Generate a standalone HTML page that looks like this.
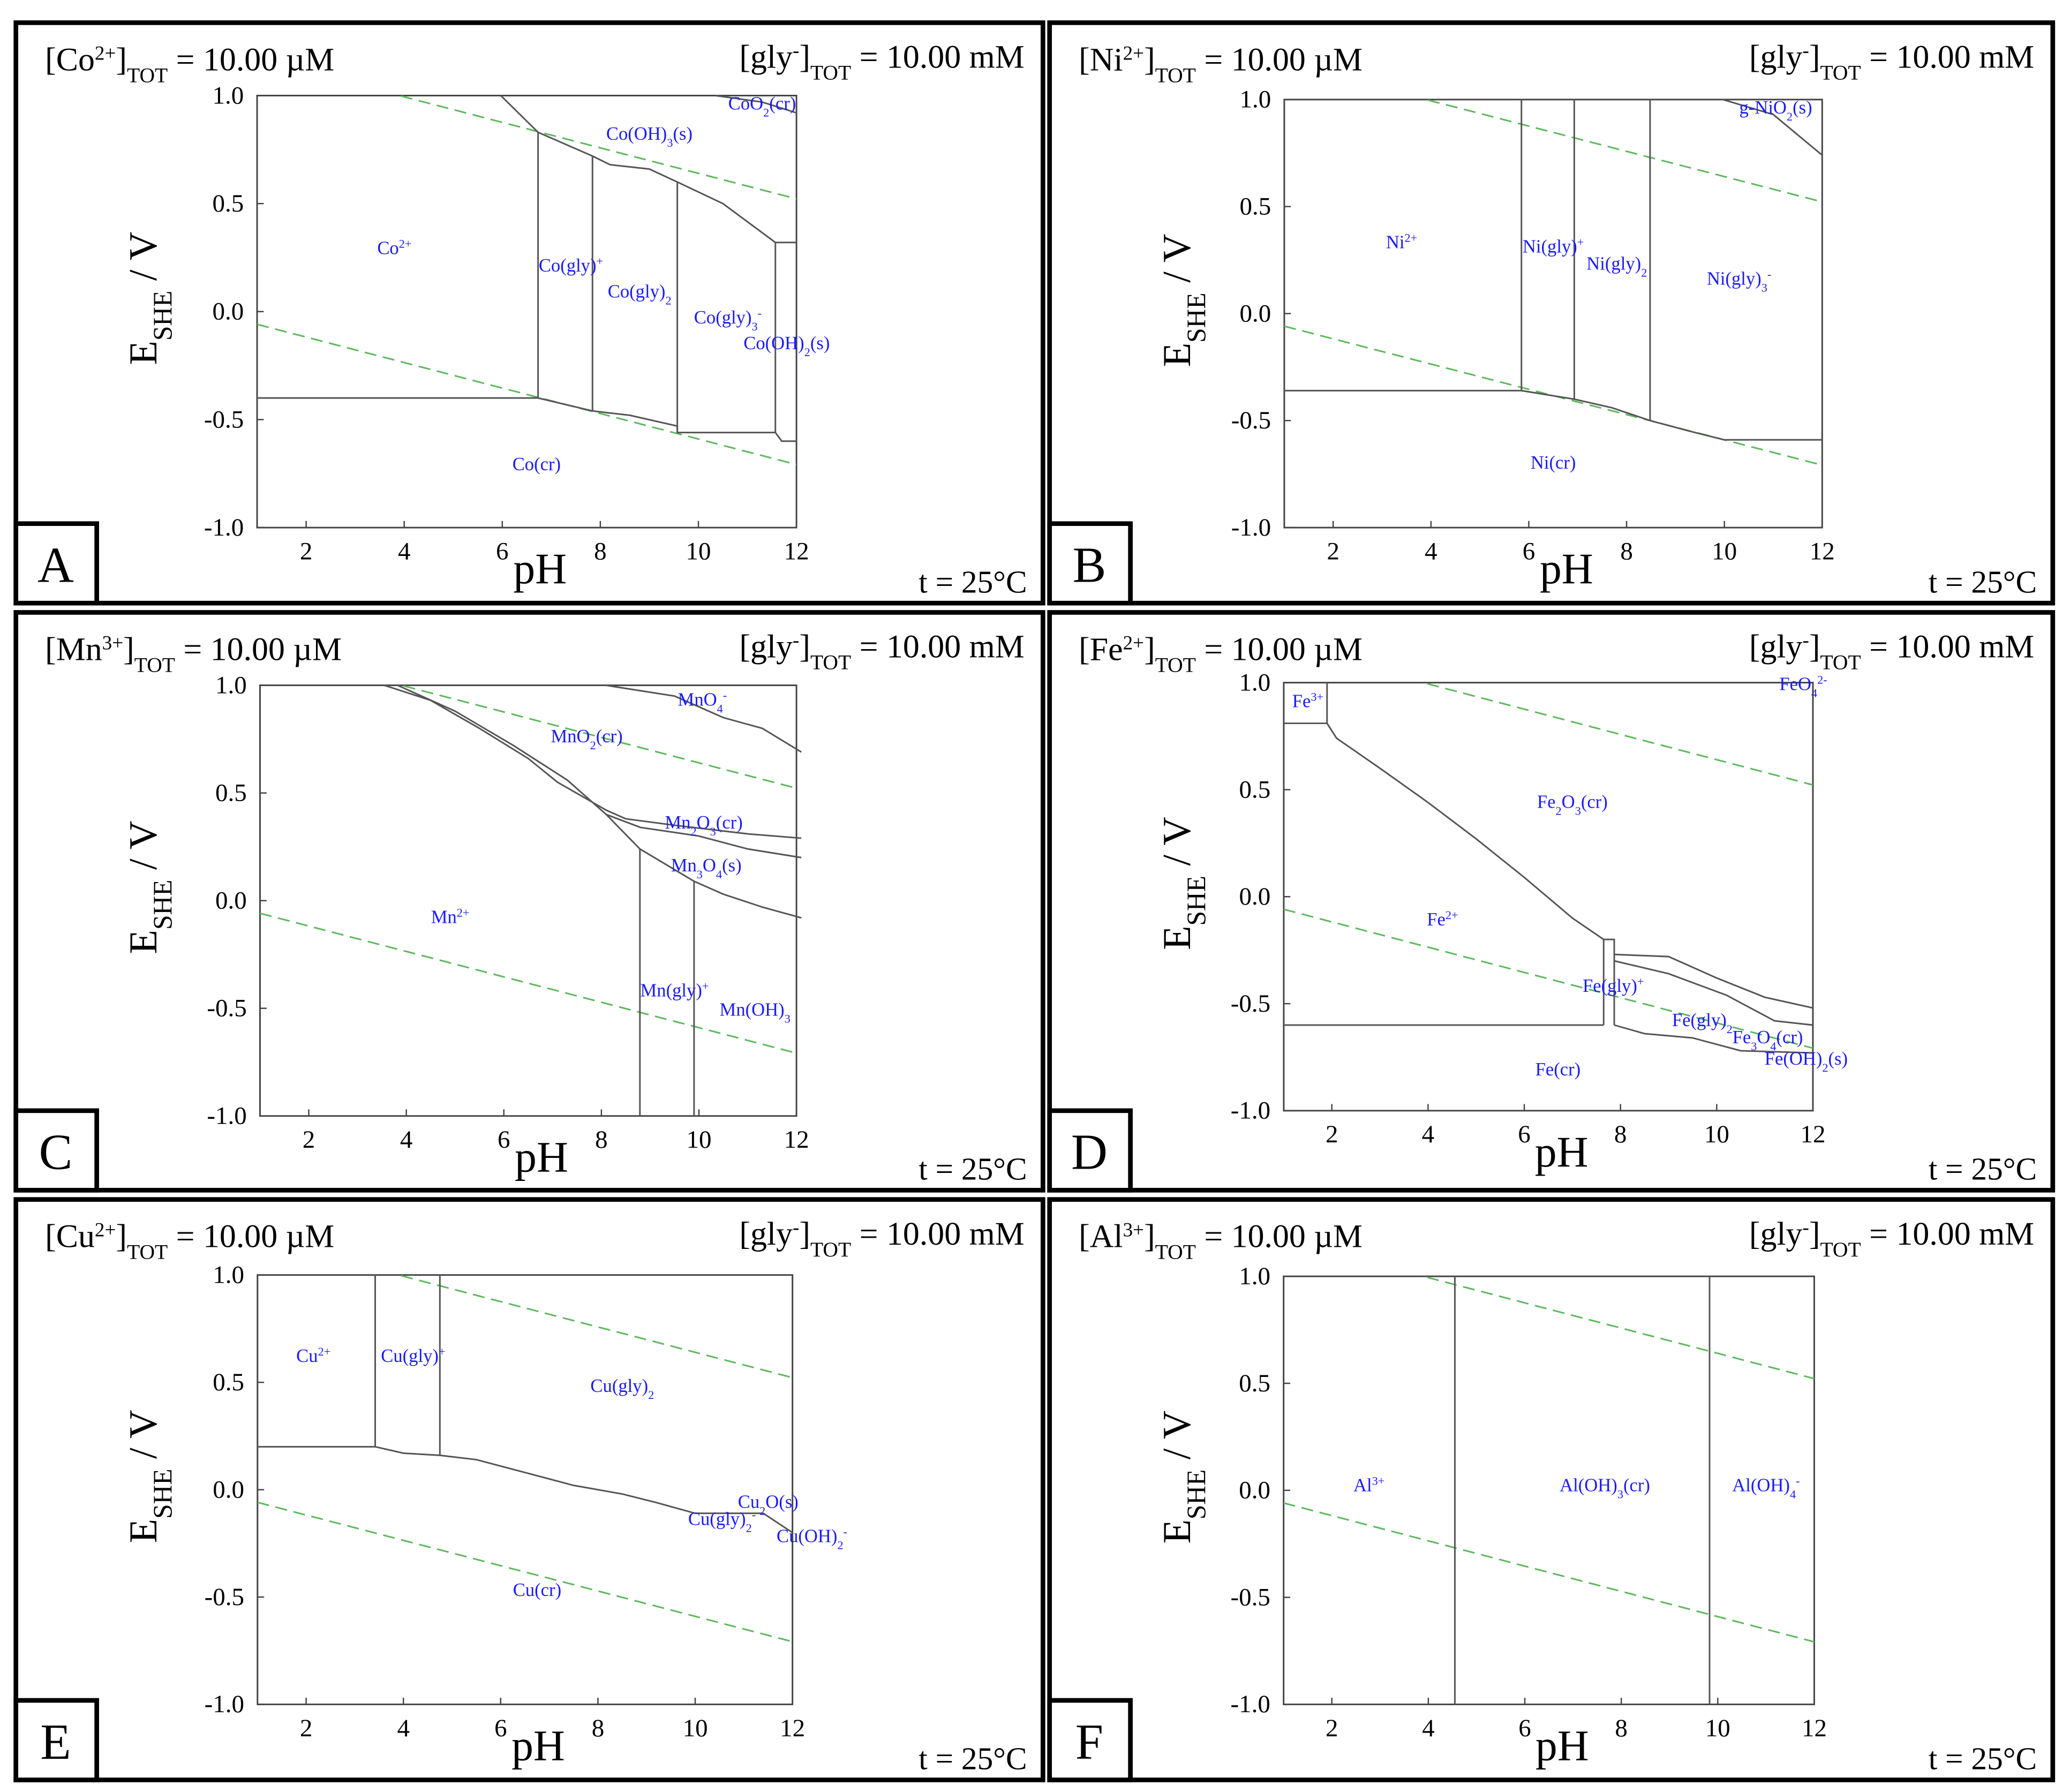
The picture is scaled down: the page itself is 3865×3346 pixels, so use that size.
<!DOCTYPE html>
<html><head><meta charset="utf-8"><style>
html,body{margin:0;padding:0;background:#fff}
svg{display:block}
text{font-family:"Liberation Serif",serif}
</style></head><body>
<svg id="chart" xmlns="http://www.w3.org/2000/svg" width="3865" height="3346" viewBox="0 0 1562 1352"></svg>
<script>
// ---------- data (pH, E in V) ----------
const phTicks = [2,4,6,8,10,12];
const eTicks = [1.0,0.5,0.0,-0.5,-1.0];
const eTickLabels = ["1.0","0.5","0.0","-0.5","-1.0"];
const letters = ["A","B","C","D","E","F"];
const metals = ["Co<tspan baseline-shift='super' font-size='15'>2+</tspan>","Ni<tspan baseline-shift='super' font-size='15'>2+</tspan>","Mn<tspan baseline-shift='super' font-size='15'>3+</tspan>","Fe<tspan baseline-shift='super' font-size='15'>2+</tspan>","Cu<tspan baseline-shift='super' font-size='15'>2+</tspan>","Al<tspan baseline-shift='super' font-size='15'>3+</tspan>"];

const linesA = [
 [[1,-0.40],[6.73,-0.40]],
 [[6.73,-0.40],[6.73,0.83]],
 [[5.97,1.0],[6.73,0.83],[7.84,0.72],[8.2,0.68],[9.0,0.66],[9.57,0.60],[10.5,0.50],[11.57,0.32],[12,0.32]],
 [[10.35,1.0],[11.3,0.97],[12,0.92]],
 [[6.73,-0.40],[7.84,-0.46],[8.6,-0.48],[9.57,-0.53],[9.57,-0.56],[11.57,-0.56],[11.7,-0.60],[12,-0.60]],
 [[7.84,-0.46],[7.84,0.72]],
 [[9.57,-0.56],[9.57,0.60]],
 [[11.57,-0.56],[11.57,0.32]]
];
const linesB = [
 [[1,-0.36],[5.85,-0.36]],
 [[5.85,-0.36],[5.85,1.0]],
 [[6.93,-0.40],[6.93,1.0]],
 [[8.48,-0.50],[8.48,1.0]],
 [[5.85,-0.36],[6.93,-0.40],[7.7,-0.44],[8.48,-0.50],[9.3,-0.55],[10,-0.59],[12,-0.59]],
 [[9.97,1.0],[11.0,0.93],[12,0.74]]
];
const linesC = [
 [[8.09,1.0],[9.5,0.95],[10.5,0.85],[11.3,0.80],[12.1,0.69]],
 [[3.55,1.0],[4.5,0.93],[5.5,0.80],[6.5,0.66],[7.1,0.55],[8.1,0.42],[8.5,0.38],[9.5,0.35],[11,0.31],[12.1,0.29]],
 [[3.82,1.0],[5.0,0.88],[6.2,0.72],[7.3,0.56],[8.1,0.40],[8.8,0.34],[10,0.30],[11,0.24],[12.1,0.20]],
 [[8.1,0.40],[8.79,0.24],[9.9,0.09],[10.5,0.03],[11.3,-0.03],[12.1,-0.08]],
 [[8.79,-1.0],[8.79,0.24]],
 [[9.9,-1.0],[9.9,0.09]]
];
const linesD = [
 [[1,0.81],[1.9,0.81]],
 [[1.9,1.0],[1.9,0.81]],
 [[1.9,0.81],[2.1,0.74],[3.0,0.60],[4.0,0.44],[5.0,0.27],[6.0,0.09],[7.0,-0.10],[7.65,-0.20]],
 [[1,-0.60],[7.65,-0.60]],
 [[7.65,-0.60],[7.65,-0.20],[7.87,-0.20],[7.87,-0.60]],
 [[7.87,-0.27],[9.0,-0.28],[10.0,-0.38],[11.0,-0.47],[12,-0.52]],
 [[7.87,-0.30],[9.0,-0.36],[10.2,-0.46],[11.2,-0.58],[12,-0.60]],
 [[7.87,-0.60],[8.5,-0.64],[9.5,-0.66],[10.5,-0.72],[12,-0.73]]
];
const linesE = [
 [[1,0.20],[3.42,0.20],[4.0,0.17],[4.75,0.16]],
 [[3.42,1.0],[3.42,0.20]],
 [[4.75,1.0],[4.75,0.16]],
 [[4.75,0.16],[5.5,0.14],[6.5,0.08],[7.5,0.02],[8.5,-0.02],[9.2,-0.06],[10.0,-0.11],[11.4,-0.11],[12,-0.20]]
];
const linesF = [
 [[4.55,-1.0],[4.55,1.0]],
 [[9.83,-1.0],[9.83,1.0]]
];
const labelsA = [["Co<tspan baseline-shift='super' font-size='9'>2+</tspan>",3.8,0.29],["Co(OH)<tspan baseline-shift='sub' font-size='9'>3</tspan>(s)",9.0,0.82],["CoO<tspan baseline-shift='sub' font-size='9'>2</tspan>(cr)",11.3,0.96],["Co(gly)<tspan baseline-shift='super' font-size='9'>+</tspan>",7.4,0.21],["Co(gly)<tspan baseline-shift='sub' font-size='9'>2</tspan>",8.8,0.09],["Co(gly)<tspan baseline-shift='sub' font-size='9'>3</tspan><tspan baseline-shift='super' font-size='9'>-</tspan>",10.6,-0.03],["Co(OH)<tspan baseline-shift='sub' font-size='9'>2</tspan>(s)",11.8,-0.15],["Co(cr)",6.7,-0.71]];
const labelsB = [["Ni<tspan baseline-shift='super' font-size='9'>2+</tspan>",3.4,0.33],["Ni(gly)<tspan baseline-shift='super' font-size='9'>+</tspan>",6.5,0.31],["Ni(gly)<tspan baseline-shift='sub' font-size='9'>2</tspan>",7.8,0.23],["Ni(gly)<tspan baseline-shift='sub' font-size='9'>3</tspan><tspan baseline-shift='super' font-size='9'>-</tspan>",10.3,0.16],["g-NiO<tspan baseline-shift='sub' font-size='9'>2</tspan>(s)",11.05,0.96],["Ni(cr)",6.5,-0.70]];
const labelsC = [["MnO<tspan baseline-shift='sub' font-size='9'>4</tspan><tspan baseline-shift='super' font-size='9'>-</tspan>",10.07,0.93],["MnO<tspan baseline-shift='sub' font-size='9'>2</tspan>(cr)",7.7,0.76],["Mn<tspan baseline-shift='sub' font-size='9'>2</tspan>O<tspan baseline-shift='sub' font-size='9'>3</tspan>(cr)",10.1,0.36],["Mn<tspan baseline-shift='sub' font-size='9'>3</tspan>O<tspan baseline-shift='sub' font-size='9'>4</tspan>(s)",10.15,0.16],["Mn<tspan baseline-shift='super' font-size='9'>2+</tspan>",4.9,-0.08],["Mn(gly)<tspan baseline-shift='super' font-size='9'>+</tspan>",9.5,-0.42],["Mn(OH)<tspan baseline-shift='sub' font-size='9'>3</tspan>",11.15,-0.51]];
const labelsD = [["Fe<tspan baseline-shift='super' font-size='9'>3+</tspan>",1.5,0.91],["FeO<tspan baseline-shift='sub' font-size='9'>4</tspan><tspan baseline-shift='super' font-size='9'>2-</tspan>",11.8,0.99],["Fe<tspan baseline-shift='sub' font-size='9'>2</tspan>O<tspan baseline-shift='sub' font-size='9'>3</tspan>(cr)",7.0,0.44],["Fe<tspan baseline-shift='super' font-size='9'>2+</tspan>",4.3,-0.11],["Fe(gly)<tspan baseline-shift='super' font-size='9'>+</tspan>",7.85,-0.42],["Fe(gly)<tspan baseline-shift='sub' font-size='9'>2</tspan>",9.7,-0.58],["Fe<tspan baseline-shift='sub' font-size='9'>3</tspan>O<tspan baseline-shift='sub' font-size='9'>4</tspan>(cr)",11.06,-0.66],["Fe(OH)<tspan baseline-shift='sub' font-size='9'>2</tspan>(s)",11.86,-0.76],["Fe(cr)",6.7,-0.81]];
const labelsE = [["Cu<tspan baseline-shift='super' font-size='9'>2+</tspan>",2.15,0.62],["Cu(gly)<tspan baseline-shift='super' font-size='9'>+</tspan>",4.2,0.62],["Cu(gly)<tspan baseline-shift='sub' font-size='9'>2</tspan>",8.5,0.48],["Cu<tspan baseline-shift='sub' font-size='9'>2</tspan>O(s)",11.5,-0.06],["Cu(gly)<tspan baseline-shift='sub' font-size='9'>2</tspan><tspan baseline-shift='super' font-size='9'>-</tspan>",10.55,-0.14],["Cu(OH)<tspan baseline-shift='sub' font-size='9'>2</tspan><tspan baseline-shift='super' font-size='9'>-</tspan>",12.4,-0.22],["Cu(cr)",6.75,-0.47]];
const labelsF = [["Al<tspan baseline-shift='super' font-size='9'>3+</tspan>",2.77,0.02],["Al(OH)<tspan baseline-shift='sub' font-size='9'>3</tspan>(cr)",7.66,0.02],["Al(OH)<tspan baseline-shift='sub' font-size='9'>4</tspan><tspan baseline-shift='super' font-size='9'>-</tspan>",11.0,0.02]];

// ---------- layout ----------
const panels = [
 {box:[12,17,775,438], plot:{x2:231,x12:601,y1:72,ym1:398}, lines:linesA, labels:labelsA},
 {box:[792,17,757,438], plot:{x2:1006,x12:1375,y1:75,ym1:398}, lines:linesB, labels:labelsB},
 {box:[12,462,775,436], plot:{x2:233,x12:601,y1:517,ym1:842}, lines:linesC, labels:labelsC},
 {box:[792,462,757,436], plot:{x2:1005,x12:1368,y1:515,ym1:838}, lines:linesD, labels:labelsD},
 {box:[12,905,775,438], plot:{x2:231,x12:598,y1:962,ym1:1286}, lines:linesE, labels:labelsE},
 {box:[792,905,757,438], plot:{x2:1005,x12:1369,y1:963,ym1:1286}, lines:linesF, labels:labelsF}
];
const svg = document.getElementById('chart');
const NS = "http://www.w3.org/2000/svg";
function mk(tag, attrs, parent){const e=document.createElementNS(NS,tag);for(const k in attrs)e.setAttribute(k,attrs[k]);parent.appendChild(e);return e;}

panels.forEach((p,i)=>{
 const g = mk('g',{},svg);
 
 
 const [bx,by,bw,bh]=p.box;
 const fr = mk('rect',{x:bx,y:by,width:bw,height:bh,fill:'none',stroke:'#000','stroke-width':3.5},g);
 
 
 const pl=p.plot; const dx=(pl.x12-pl.x2)/10;
 const X = ph => pl.x2 + (ph-2)*dx;
 const Y = e => pl.y1 + (1-e)*(pl.ym1-pl.y1)/2;
 const x0=X(1), x1=X(12), y0=Y(1), y1=Y(-1);
 const pa = mk('rect',{x:x0,y:y0,width:x1-x0,height:y1-y0,fill:'none',stroke:'#444','stroke-width':1.2},g);
 
 
 const clip = mk('clipPath',{id:'c'+i},g); mk('rect',{x:x0,y:y0,width:x1-x0,height:y1-y0},clip);
 const wg = mk('g',{'clip-path':'url(#c'+i+')'},g);
 [[1.23,0.059],[0,0.059]].forEach((w,j)=>{
  const l = mk('line',{x1:X(1),y1:Y(w[0]-w[1]*1),x2:X(12),y2:Y(w[0]-w[1]*12),stroke:'#5cb85c','stroke-width':1.2,'stroke-dasharray':'9,5'},wg);
  
  
 });
 p.lines.forEach(ln=>{
  const pth = mk('polyline',{points:ln.map(q=>X(q[0])+','+Y(q[1])).join(' '),fill:'none',stroke:'#555','stroke-width':1.2},g);
  
  
 });
 phTicks.forEach(t=>{
  mk('line',{x1:X(t),y1:y1,x2:X(t),y2:y1-5,stroke:'#444','stroke-width':1},g);
  const tx = mk('text',{x:X(t),y:y1+24,'text-anchor':'middle','font-size':19},g);
  tx.textContent=t;
  
  
 });
 eTicks.forEach((t,k)=>{
  mk('line',{x1:x0,y1:Y(t),x2:x0+5,y2:Y(t),stroke:'#444','stroke-width':1},g);
  const tx = mk('text',{x:x0-10,y:Y(t)+6,'text-anchor':'end','font-size':19},g);
  tx.textContent=eTickLabels[k];
  
  
 });
 p.labels.forEach(lb=>{
  const t = mk('text',{x:X(lb[1]),y:Y(lb[2])+4,'text-anchor':'middle','font-size':14,fill:'#1a1aff'},g);
  t.innerHTML=lb[0];
  
  
 });
 const xt = mk('text',{x:(x0+x1)/2+10,y:y1+42,'text-anchor':'middle','font-size':33},g);
 xt.textContent='pH';
 
 
 const ycx = bx+106, ycy=(y0+y1)/2-10;
 const yt = mk('text',{x:ycx,y:ycy,'text-anchor':'middle','font-size':30,transform:'rotate(-90 '+ycx+' '+ycy+')'},g);
 yt.innerHTML="E<tspan baseline-shift='sub' font-size='20'>SHE</tspan> / V";
 
 
 const h1 = mk('text',{x:bx+22,y:by+36,'font-size':25},g);
 h1.innerHTML='['+metals[i]+']<tspan baseline-shift="sub" font-size="16">TOT</tspan> = 10.00 µM';
 
 
 const h2 = mk('text',{x:bx+bw-14,y:by+34,'text-anchor':'end','font-size':25},g);
 h2.innerHTML='[gly<tspan baseline-shift="super" font-size="15">-</tspan>]<tspan baseline-shift="sub" font-size="16">TOT</tspan> = 10.00 mM';
 
 
 const tt = mk('text',{x:bx+bw-12,y:by+bh-8,'text-anchor':'end','font-size':24},g);
 tt.textContent='t = 25°C';
 
 
 const lb = mk('rect',{x:bx,y:by+bh-60,width:61,height:60,fill:'#fff',stroke:'#000','stroke-width':3.5},g);
 
 
 const lt = mk('text',{x:bx+30,y:by+bh-16,'text-anchor':'middle','font-size':38},g);
 lt.textContent=letters[i];
 
 
});
</script>
</body></html>
